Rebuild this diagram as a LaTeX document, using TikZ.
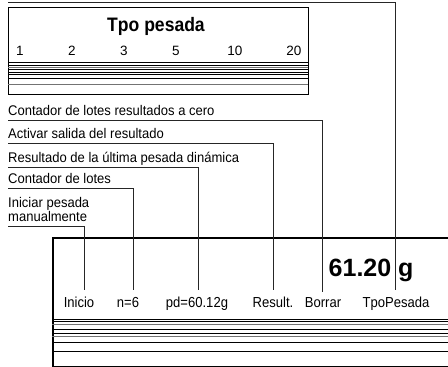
\documentclass[tikz,border=0pt]{standalone}
\usepackage{fontspec}
\setmainfont{Liberation Sans}
\newfontfamily\condfont{Liberation Sans}[FakeStretch=0.9]
\newfontfamily\labfont{Liberation Sans}[FakeStretch=0.93]
\begin{document}
\begin{tikzpicture}[x=1pt,y=-1pt,
  lbl/.style={font=\labfont\fontsize{14}{14}\selectfont, anchor=base west, inner sep=0pt},
  dlbl/.style={font=\condfont\fontsize{14.5}{14}\selectfont, anchor=base, inner sep=0pt},
  num/.style={font=\fontsize{13.5}{14}\selectfont, anchor=base, inner sep=0pt},
  lead/.style={line width=0.9pt, black!85},
  frame/.style={draw, line width=1.3pt, inner sep=0pt, anchor=north west},
  rule/.style={line width=0.9pt},
  grule/.style={line width=1pt, black!55}]
\path[use as bounding box] (0,0) rectangle (448,367);
\clip (0,0) rectangle (448,367);
\fill[white] (0,0) rectangle (448,367);

% top "Tpo pesada" box
\node[frame, minimum width=300pt, minimum height=87pt] (tpobox) at (8,7) {};
\node[anchor=base, inner sep=0pt, font=\condfont\bfseries\fontsize{19.5}{20}\selectfont] (tpo) at (156,31) {Tpo pesada};
\node[num] (n1) at (20,55) {1};
\node[num] (n2) at (72,55) {2};
\node[num] (n3) at (124,55) {3};
\node[num] (n5) at (176,55) {5};
\node[num] (n10) at (235,55) {10};
\node[num] (n20) at (294,55) {20};
\foreach \yy in {62.3,65,69.7,72.3,74.7,78.3} \draw[rule] (8,\yy) -- (308,\yy);
\foreach \yy in {67,84.7} \draw[grule] (8,\yy) -- (308,\yy);

% display
\node[draw, line width=2pt, inner sep=0pt, anchor=north west, minimum width=420pt, minimum height=129pt] (disp) at (52,236.5) {};
\foreach \yy in {319,321.7,329,333.3,342.3,351.7} \draw[rule] (52,\yy) -- (460,\yy);
\foreach \yy in {324.7,336} \draw[grule] (52,\yy) -- (460,\yy);

\node[anchor=base east, inner sep=0pt, font=\bfseries\fontsize{25}{26}\selectfont] (val) at (391.5,276) {61.20};
\node[anchor=base west, inner sep=0pt, font=\bfseries\fontsize{25}{26}\selectfont] (unit) at (398,276) {g};

\node[dlbl] (d1) at (79,307) {Inicio};
\node[dlbl] (d2) at (128,307) {n=6};
\node[dlbl] (d3) at (197,307) {pd=60.12g};
\node[dlbl] (d4) at (273,307) {Result.};
\node[dlbl] (d5) at (323,307) {Borrar};
\node[dlbl] (d6) at (396,307) {TpoPesada};

% leader ends
\coordinate (e1) at (84,290);
\coordinate (e2) at (133,290);
\coordinate (e3) at (198,290);
\coordinate (e4) at (273,290);
\coordinate (e5) at (322.5,292);
\coordinate (e6) at (395,290);
\coordinate (t0) at (8,2);

% labels
\node[lbl] (l5) at (8,115) {Contador de lotes resultados a cero};
\node[lbl] (l4) at (8,138) {Activar salida del resultado};
\node[lbl] (l3) at (8,162) {Resultado de la última pesada dinámica};
\node[lbl] (l2) at (8,183) {Contador de lotes};
\node[lbl, align=left, anchor=north west, font=\labfont\fontsize{14}{13.5}\selectfont] (l1) at (8,197.5) {Iniciar pesada\\manualmente};

\draw[lead] ([yshift=-5pt]l5.base west) -| (e5);
\draw[lead] ([yshift=-5pt]l4.base west) -| (e4);
\draw[lead] ([yshift=-5pt]l3.base west) -| (e3);
\draw[lead] ([yshift=-5pt]l2.base west) -| (e2);
\draw[lead] (l1.south west |- 0,226) -| (e1);
\draw[lead] (t0) -| (e6);
\end{tikzpicture}
\end{document}
